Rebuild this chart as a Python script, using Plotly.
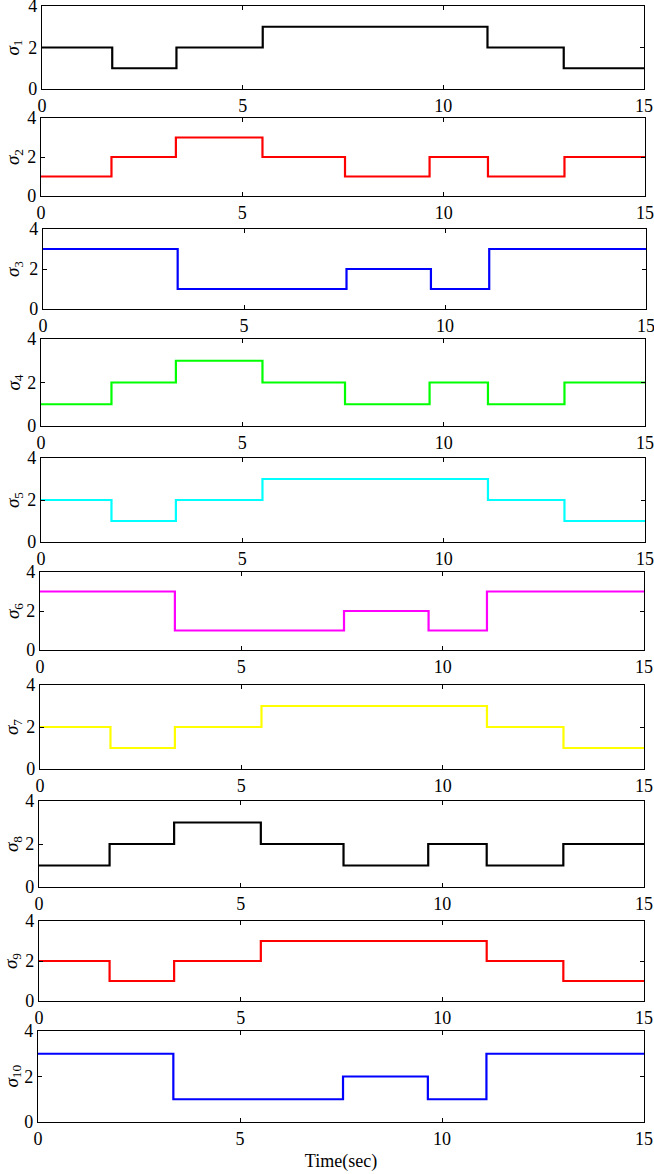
import plotly.graph_objects as go

# switching instants (s) and the value held on each interval
times = [0, 1.75, 3.35, 5.5, 7.55, 9.65, 11.1, 13.0, 15]
sigma = {
    "1": [2, 1, 2, 3, 3, 3, 2, 1],
    "2": [1, 2, 3, 2, 1, 2, 1, 2],
    "3": [3, 3, 1, 1, 2, 1, 3, 3],
    "4": [1, 2, 3, 2, 1, 2, 1, 2],
    "5": [2, 1, 2, 3, 3, 3, 2, 1],
    "6": [3, 3, 1, 1, 2, 1, 3, 3],
    "7": [2, 1, 2, 3, 3, 3, 2, 1],
    "8": [1, 2, 3, 2, 1, 2, 1, 2],
    "9": [2, 1, 2, 3, 3, 3, 2, 1],
    "10": [3, 3, 1, 1, 2, 1, 3, 3],
}
colors = ["#000000", "#ff0000", "#0000ff", "#00ff00", "#00ffff",
          "#ff00ff", "#ffff00", "#000000", "#ff0000", "#0000ff"]
x_ticks = [0, 5, 10, 15]
y_ticks = [0, 2, 4]

W, H = 654, 1174
# panel pixel boxes (top, bottom) and (left, right)
tops = [6, 118, 229, 339, 458, 572, 685, 801, 921, 1031]
bottoms = [89, 196, 309, 426, 542, 650, 769, 887, 1001, 1122]
lefts = [42, 41, 43, 41, 41, 40, 40, 39, 39, 38]
rights = [644, 645, 646, 645, 645, 644, 644, 644, 644, 644]
title_x = [14, 14, 14, 14, 14, 14, 13, 13, 12, 12]

FONT = "Liberation Serif, Times New Roman, serif"
fig = go.Figure()
annotations = []
for i, (k, vals) in enumerate(sigma.items()):
    n = i + 1
    xa = "x" if n == 1 else f"x{n}"
    ya = "y" if n == 1 else f"y{n}"
    fig.add_trace(go.Scatter(
        x=times, y=vals + [vals[-1]], mode="lines", line_shape="hv",
        line=dict(color=colors[i], width=2.2), xaxis=xa, yaxis=ya,
        showlegend=False, hoverinfo="skip"))
    axx = dict(domain=[lefts[i] / W, rights[i] / W], range=[0, 15],
               tickvals=x_ticks, ticks="inside", ticklen=4, tickcolor="#000",
               showline=True, linecolor="#000", linewidth=1.2, mirror="ticks",
               showgrid=False, zeroline=False, anchor=ya, automargin=False,
               ticklabeloverflow="allow",
               tickfont=dict(family=FONT, size=18, color="#000"))
    axy = dict(domain=[1 - bottoms[i] / H, 1 - tops[i] / H], range=[0, 4],
               tickvals=y_ticks, ticks="inside", ticklen=4, tickcolor="#000",
               showline=True, linecolor="#000", linewidth=1.2, mirror="ticks",
               showgrid=False, zeroline=False, anchor=xa, automargin=False,
               ticklabeloverflow="allow",
               tickfont=dict(family=FONT, size=18, color="#000"))
    if n == 10:
        axx["title"] = dict(text="Time(sec)", standoff=6,
                            font=dict(family=FONT, size=18, color="#000"))
    fig.update_layout(**{("xaxis" if n == 1 else f"xaxis{n}"): axx,
                         ("yaxis" if n == 1 else f"yaxis{n}"): axy})
    annotations.append(dict(
        text=f"<i>σ</i><sub>{k}</sub>", textangle=-90, showarrow=False,
        xref="paper", yref="paper", x=title_x[i] / W, xanchor="center",
        y=1 - (tops[i] + bottoms[i]) / 2 / H, yanchor="middle",
        font=dict(family=FONT, size=19, color="#000")))

fig.update_layout(width=W, height=H, margin=dict(l=0, r=0, t=0, b=0),
                  plot_bgcolor="white", paper_bgcolor="white",
                  annotations=annotations,
                  font=dict(family=FONT, color="#000"))
fig.write_html("out.html", config={"displayModeBar": False},
               post_script="document.body.style.margin='0';"
                           "document.body.style.overflow='hidden';")
